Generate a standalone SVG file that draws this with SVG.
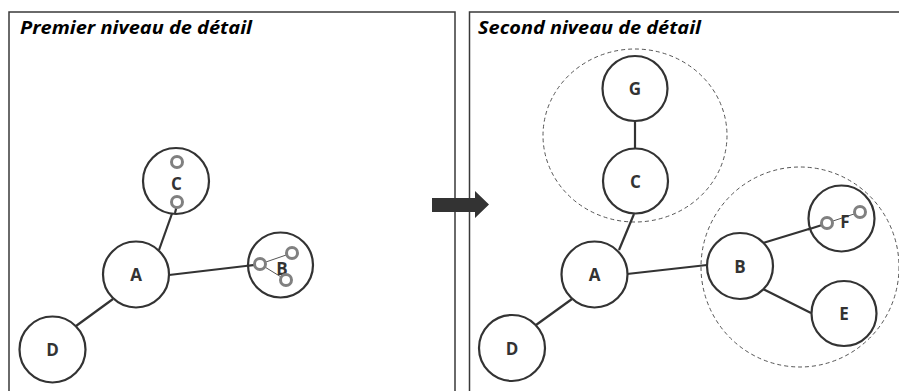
<svg xmlns="http://www.w3.org/2000/svg" width="899" height="391" viewBox="0 0 899 391">
<style>
.frame{fill:none;stroke:#3a3a3a;stroke-width:1.5}
.node{fill:#fff;stroke:#333;stroke-width:2.2}
.lbl{font-family:"Open Sans","Liberation Sans",sans-serif;font-weight:bold;font-size:17px;fill:#333;text-anchor:middle}
.title{font-family:"Open Sans","Liberation Sans",sans-serif;font-weight:bold;font-style:italic;font-size:18px;fill:#000}
.edge{stroke:#333;stroke-width:2.2;fill:none}
.thin{stroke:#555;stroke-width:1;fill:none}
.port{fill:#fff;stroke:#808080;stroke-width:3}
.group{fill:none;stroke:#555;stroke-width:1;stroke-dasharray:4 3}
</style>
<rect width="899" height="391" fill="#fff"/>
<g id="panel-left">
<path class="frame" d="M9,400 V12 H455 V400"/>
<text class="title" x="20" y="34" textLength="232" lengthAdjust="spacingAndGlyphs">Premier niveau de détail</text>
</g>
<g id="panel-right">
<path class="frame" d="M469.5,400 V12 H905"/>
<text class="title" x="478" y="34" textLength="223" lengthAdjust="spacingAndGlyphs">Second niveau de détail</text>
</g>
<g id="groups">
<ellipse class="group" cx="635" cy="135.5" rx="92" ry="86.5"/>
<ellipse class="group" cx="800" cy="267" rx="99" ry="100"/>
</g>
<g id="connectors">
<line class="edge" x1="76" y1="326" x2="113" y2="299"/>
<line class="edge" x1="159" y1="250" x2="174" y2="208"/>
<line class="edge" x1="169" y1="275" x2="254" y2="265"/>
<line class="edge" x1="536" y1="325" x2="572" y2="299"/>
<line class="edge" x1="619" y1="250" x2="634" y2="214"/>
<line class="edge" x1="635" y1="121" x2="635" y2="148"/>
<line class="edge" x1="627" y1="274" x2="707" y2="265"/>
<line class="edge" x1="763" y1="243" x2="822" y2="225"/>
<line class="edge" x1="763" y1="289" x2="811" y2="313"/>
</g>
<g id="left-A"><circle class="node" cx="136" cy="274.5" r="33"/><text class="lbl" x="136" y="281">A</text></g>
<g id="left-D"><circle class="node" cx="52.5" cy="349.5" r="33"/><text class="lbl" x="52.5" y="356">D</text></g>
<g id="left-C"><circle class="node" cx="176" cy="181" r="33"/>
<line class="edge" x1="176.5" y1="207" x2="175" y2="213"/>
<text class="lbl" x="176.5" y="189.5">C</text>
<circle class="port" cx="177" cy="162" r="5.5"/><circle class="port" cx="177" cy="202" r="5.5"/></g>
<g id="left-B"><circle class="node" cx="280.5" cy="265" r="32.5"/>
<line class="edge" x1="247" y1="265.8" x2="255" y2="264.8"/>
<line class="thin" x1="260" y1="264" x2="292" y2="253"/>
<line class="thin" x1="260" y1="264" x2="286" y2="280"/>
<text class="lbl" x="282" y="275">B</text>
<circle class="port" cx="260" cy="264" r="5.5"/><circle class="port" cx="292" cy="253" r="5.5"/><circle class="port" cx="286" cy="280" r="5.5"/></g>
<g id="right-A"><circle class="node" cx="594.5" cy="274.5" r="33"/><text class="lbl" x="594.5" y="281">A</text></g>
<g id="right-D"><circle class="node" cx="512" cy="348" r="33"/><text class="lbl" x="512" y="354.5">D</text></g>
<g id="right-C"><circle class="node" cx="635.5" cy="181" r="32.5"/><text class="lbl" x="635.5" y="187.5">C</text></g>
<g id="right-G"><circle class="node" cx="635" cy="88.5" r="32.5"/><text class="lbl" x="635" y="95">G</text></g>
<g id="right-B"><circle class="node" cx="740" cy="266" r="33"/><text class="lbl" x="740" y="272.5">B</text></g>
<g id="right-F"><circle class="node" cx="841.5" cy="218.5" r="33"/>
<line class="edge" x1="808" y1="229.5" x2="822" y2="225"/>
<line class="thin" x1="827" y1="223" x2="860" y2="212"/>
<text class="lbl" x="845" y="228">F</text>
<circle class="port" cx="827" cy="223" r="5.5"/><circle class="port" cx="860" cy="212" r="5.5"/></g>
<g id="right-E"><circle class="node" cx="844" cy="313.5" r="32.5"/><text class="lbl" x="844" y="320">E</text></g>
<g id="arrow"><polygon points="432,198 475,198 475,191 489,204.5 475,218 475,212 432,212" fill="#333"/></g>
</svg>
